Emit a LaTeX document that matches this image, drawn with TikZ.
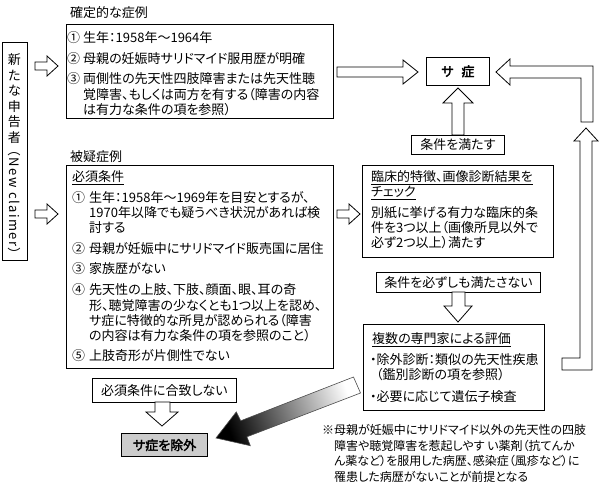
\documentclass[tikz,border=0pt]{standalone}
\usepackage{fontspec}
\setmainfont{Noto Sans CJK JP}[RawFeature=+palt]
\newfontfamily\jpbold{Noto Sans CJK JP}[RawFeature=+palt,FakeBold=2.5]
\newfontfamily\jpspaced{Noto Sans CJK JP}[RawFeature=+palt,LetterSpace=11]
\begin{document}
\begin{tikzpicture}[x=1pt,y=-1pt,
  font=\fontsize{13}{15}\selectfont,
  box/.style={draw,line width=0.8pt,inner sep=0pt,anchor=north west},
  txt/.style={anchor=west,inner sep=0pt},
  blk/.style={draw,line width=0.8pt,fill=white,line join=miter},
  lbl/.style={draw,line width=0.8pt,inner sep=0pt,anchor=north west,fill=white}]
\useasboundingbox (0,0) rectangle (600,490);

% left box
\node[box,minimum width=25pt,minimum height=218pt] (nc) at (2,42) {};
\foreach \c [count=\i] in {新,た,な,申,告,者}
  \node[inner sep=0pt] (nc\i) at (14.5,44+15.6*\i) {\c};
\node[inner sep=0pt,rotate=-90] (ncl) at (14.5,202) {\jpspaced（New claimer）};

% small arrows
\draw[blk] (35,62) -- (47,62) -- (47,56) -- (58,66) -- (47,76) -- (47,70) -- (35,70) -- cycle;
\draw[blk] (35,210) -- (47,210) -- (47,204) -- (58,214) -- (47,224) -- (47,218) -- (35,218) -- cycle;
\draw[blk] (337,210) -- (349,210) -- (349,204) -- (360,214) -- (349,224) -- (349,218) -- (337,218) -- cycle;

% definite cases
\node[txt] (lab1) at (70,13) {確定的な症例};
\node[box,minimum width=267pt,minimum height=94pt] (def) at (66,24) {};
\node[txt] (d1n) at (67,38) {①};
\node[txt] (d1) at (83,38) {生年：1958年～1964年};
\node[txt] (d2n) at (67,59) {②};
\node[txt] (d2) at (83,59) {母親の妊娠時サリドマイド服用歴が明確};
\node[txt] (d3n) at (67,79) {③};
\node[txt] (d3) at (83,79) {両側性の先天性四肢障害または先天性聴};
\node[txt] (d3b) at (83,95) {覚障害、もしくは両方を有する（障害の内容};
\node[txt] (d3c) at (83,110) {は有力な条件の項を参照）};

% suspected
\node[txt] (lab2) at (70,157) {被疑症例};
\node[box,minimum width=267pt,minimum height=203pt] (sus) at (66,165) {};
\node[txt] (s0) at (72,178) {\underline{必須条件}};
\node[txt] (s1n) at (72,198) {①};
\node[txt] (s1) at (89,198) {生年：1958年～1969年を目安とするが、};
\node[txt] (s1b) at (89,213) {1970年以降でも疑うべき状況があれば検};
\node[txt] (s1c) at (89,228) {討する};
\node[txt] (s2n) at (72,249) {②};
\node[txt] (s2) at (89,249) {母親が妊娠中にサリドマイド販売国に居住};
\node[txt] (s3n) at (72,269) {③};
\node[txt] (s3) at (89,269) {家族歴がない};
\node[txt] (s4n) at (72,290) {④};
\node[txt] (s4) at (89,290) {先天性の上肢、下肢、顔面、眼、耳の奇};
\node[txt] (s4b) at (89,306) {形、聴覚障害の少なくとも1つ以上を認め、};
\node[txt] (s4c) at (89,321) {サ症に特徴的な所見が認められる（障害};
\node[txt] (s4d) at (89,336) {の内容は有力な条件の項を参照のこと）};
\node[txt] (s5n) at (72,356) {⑤};
\node[txt] (s5) at (89,356) {上肢奇形が片側性でない};

% thalidomide embryopathy
\node[lbl,minimum width=63pt,minimum height=28pt] (sa) at (426,57) {};
\node[inner sep=0pt] at (sa.center) {\jpbold サ\hspace{0.6em}症};

% arrows to sa
\draw[blk] (337,67) -- (403,67) -- (403,60) -- (418,72) -- (403,84) -- (403,77) -- (337,77) -- cycle;
\draw[blk] (496,72) -- (510,59) -- (510,66) -- (593,66) -- (593,122) -- (581,122) -- (581,78) -- (510,78) -- (510,85) -- cycle;
\draw[blk] (458,88) -- (473,103) -- (464,103) -- (464,135) -- (452,135) -- (452,103) -- (443,103) -- cycle;

\node[lbl,minimum width=93pt,minimum height=19pt] (ok) at (411,135) {};
\node[inner sep=0pt] at (ok.center) {条件を満たす};

% clinical check
\node[box,minimum width=191pt,minimum height=92pt] (cl) at (362,165) {};
\node[txt] (c1) at (371,178) {\underline{臨床的特徴、画像診断結果を}};
\node[txt] (c2) at (371,193) {\underline{チェック}};
\node[txt] (c3) at (371,213) {別紙に挙げる有力な臨床的条};
\node[txt] (c4) at (371,228) {件を3つ以上（画像所見以外で};
\node[txt] (c5) at (371,243) {必ず2つ以上）満たす};

\node[lbl,minimum width=164pt,minimum height=20pt] (ng) at (376,272) {};
\node[inner sep=0pt] at (ng.center) {条件を必ずしも満たさない};
\draw[blk] (452,292) -- (465,292) -- (465,306) -- (472,306) -- (458,322) -- (444,306) -- (452,306) -- cycle;

% experts
\node[box,minimum width=181pt,minimum height=86pt] (ex) at (363,324) {};
\node[txt] (e1) at (372,340) {\underline{複数の専門家による評価}};
\node[txt] (e2) at (370,360) {・除外診断：類似の先天性疾患};
\node[txt] (e3) at (376,375) {（鑑別診断の項を参照）};
\node[txt] (e4) at (370,397) {・必要に応じて遺伝子検査};

% right return arrow
\draw[blk] (586,128) -- (598,141) -- (592,141) -- (592,370) -- (562,370) -- (562,358) -- (580,358) -- (580,141) -- (574,141) -- cycle;

% exclusion
\node[lbl,minimum width=144pt,minimum height=24pt] (nm) at (92,378) {};
\node[inner sep=0pt] at (nm.center) {必須条件に合致しない};
\draw[blk] (155,402) -- (170,402) -- (170,412) -- (178,412) -- (162,426) -- (146,412) -- (155,412) -- cycle;
\node[draw,line width=1.2pt,fill=black!20,inner sep=0pt,anchor=north west,minimum width=86pt,minimum height=23pt] (ex2) at (121,433) {};
\node[inner sep=0pt] at (ex2.center) {\jpbold サ症を除外};

% gradient arrow
\shade[top color=black,bottom color=white,shading angle=110.6,draw=black!70,line width=0.6pt]
  (360.5,393.0) -- (353.5,377.0) -- (240.7,420.8) -- (236.3,411.9) -- (216,438) -- (250.3,445.7) -- (246.9,436.8) -- cycle;

% note
\begin{scope}[font=\fontsize{12}{14}\selectfont]
\node[txt] (n1) at (322,430) {※母親が妊娠中にサリドマイド以外の先天性の四肢};
\node[txt] (n2) at (334,446) {障害や聴覚障害を惹起しやす い薬剤（抗てんか};
\node[txt] (n3) at (334,461) {ん薬など）を服用した病歴、感染症（風疹など）に};
\node[txt] (n4) at (334,477) {罹患した病歴がないことが前提となる};
\end{scope}
\end{tikzpicture}
\end{document}
